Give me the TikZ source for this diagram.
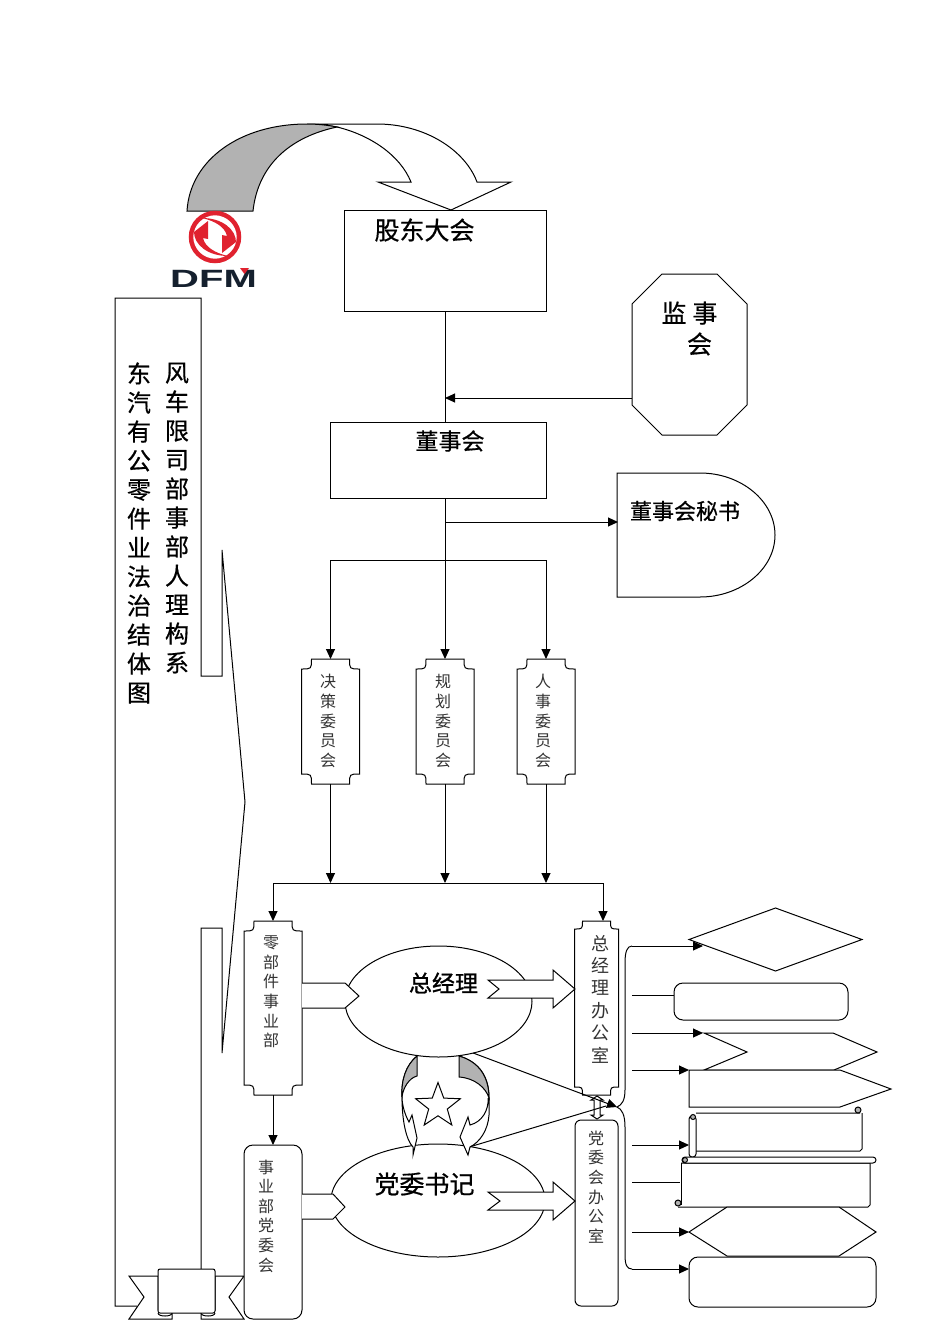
\documentclass[tikz,border=0pt]{standalone}
\usepackage{fontspec}
\setmainfont{Noto Sans CJK SC}
\newfontfamily\medfont[FakeBold=0.6]{Noto Sans CJK SC}
\newfontfamily\heavyfont[FakeBold=1.1]{Noto Sans CJK SC}
\newfontfamily\logofont{Liberation Sans}
\usetikzlibrary{arrows.meta}
\usetikzlibrary{shapes.geometric}
\definecolor{bandgray}{HTML}{B2B2B2}
\definecolor{dfmred}{HTML}{E0222F}
\definecolor{dfmnavy}{HTML}{15202E}
\tikzset{x=1pt,y=-1pt,
	>={Triangle[length=10pt,width=9pt]},
	every path/.style={line width=1pt},
	every node/.style={outer sep=0pt},
	box/.style={draw,rectangle,inner sep=0pt},
	blank/.style={rectangle,inner sep=0pt},
	oval/.style={draw,ellipse,inner sep=0pt,fill=white},
	roundbox/.style={draw,rectangle,inner sep=0pt,rounded corners=9pt,fill=white},
	bigtxt/.style={font=\medfont\fontsize{25}{31}\selectfont,align=center,inner sep=0pt},
	midtxt/.style={font=\medfont\fontsize{22}{26}\selectfont,inner sep=0pt},
	smalltxt/.style={font=\fontsize{16}{19.6}\selectfont,align=center,inner sep=0pt,text=black!80},
	officetxt/.style={font=\fontsize{18}{22.4}\selectfont,align=center,inner sep=0pt,text=black!80},
	titletxt/.style={font=\medfont\fontsize{24}{29}\selectfont,align=center,inner sep=0pt},
	flat/.style={draw,fill=white,line join=miter}}
\newcommand{\plaque}[2][10pt]{\draw ([xshift=#1]#2.north west) -- ([xshift=-#1]#2.north east)
	.. controls ([xshift=-#1,yshift=-#1]#2.north east) .. ([yshift=-#1]#2.north east)
	-- ([yshift=#1]#2.south east)
	.. controls ([xshift=-#1,yshift=#1]#2.south east) .. ([xshift=-#1]#2.south east)
	-- ([xshift=#1]#2.south west)
	.. controls ([xshift=#1,yshift=#1]#2.south west) .. ([yshift=#1]#2.south west)
	-- ([yshift=-#1]#2.north west)
	.. controls ([xshift=#1,yshift=-#1]#2.north west) .. ([xshift=#1]#2.north west) -- cycle;}
\begin{document}
\begin{tikzpicture}
		\useasboundingbox (0,0) rectangle (950,1344);
		% title band
		\draw (137,1306) -- (115,1306) -- (115,298) -- (201,298) -- (201,676) -- (222,676) -- (222,550)
			-- (245,802) -- (222,1053) -- (222,928) -- (201,928) -- (201,1269);
		\node[titletxt] (titleR) at (177,518) {风\\车\\限\\司\\部\\事\\部\\人\\理\\构\\系};
		\node[titletxt] (titleL) at (139,533) {东\\汽\\有\\公\\零\\件\\业\\法\\治\\结\\体\\图};
		% ribbon
		\draw[fill=white] (158,1276) -- (129,1276) -- (144,1297) -- (129,1319) -- (172,1319) -- (172,1310) -- (158,1310) -- cycle;
		\draw[fill=white] (215,1276) -- (244,1276) -- (229,1297) -- (244,1319) -- (201,1319) -- (201,1310) -- (215,1310) -- cycle;
		\draw[fill=white] (158,1313) .. controls (158,1317) and (172,1317) .. (172,1313);
		\draw[fill=white] (201,1313) .. controls (201,1317) and (215,1317) .. (215,1313);
		\node[box,fill=white,rounded corners=2pt,minimum width=57pt,minimum height=44pt] (ribbon) at (186.5,1291) {};
		% top arrow and logo
		\draw[flat] (307,124) -- (377,124) .. controls (425,124) and (465,150) .. (477,182) -- (511,182) -- (451,210)
			-- (378,182) -- (411,182) .. controls (400,155) and (370,135) .. (337,127) .. controls (327,125) and (317,124) .. (307,124) -- cycle;
		\draw[fill=bandgray] (187,211) .. controls (190,160) and (240,124) .. (307,124) .. controls (317,124) and (327,125) .. (337,127)
			.. controls (290,137) and (258,165) .. (253,211) -- cycle;
		\node[draw=dfmred,circle,line width=4.5pt,minimum size=48pt,inner sep=0pt] (logoring) at (215,237) {};
		\begin{scope}[shift={(215,237)}]
			\fill[dfmred] (-7,-16) -- (-21,-5) .. controls (-21,7) and (-8,19) .. (13,19) .. controls (0,16) and (-10,10) .. (-12,1) -- (-7,2) -- cycle;
			\fill[dfmred,rotate=180] (-7,-16) -- (-21,-5) .. controls (-21,7) and (-8,19) .. (13,19) .. controls (0,16) and (-10,10) .. (-12,1) -- (-7,2) -- cycle;
		\end{scope}
		\node[font=\logofont\bfseries\fontsize{25}{25}\selectfont,text=dfmnavy,xscale=1.6,inner sep=0pt] (logotxt) at (213.5,278.5) {DFM};
		\fill[dfmred] (240,268) -- (249,268) -- (244.5,274) -- cycle;
		% upper boxes
		\node[box,minimum width=202pt,minimum height=101pt] (gudong) at (445,260.5) {};
		\node[bigtxt] (gudongT) at (424.5,230) {股东大会};
		\node[blank,minimum width=115pt,minimum height=161pt] (jianshi) at (689.5,354.5) {};
		\draw (662,274) -- (717,274) -- (747,304) -- (747,405) -- (717,435) -- (662,435) -- (632,405) -- (632,304) -- cycle;
		\node[bigtxt] (jianshiT) at (689.5,328.5) {监\hspace{6pt}事\\\hspace*{20pt}会};
		\node[box,minimum width=216pt,minimum height=76pt] (dongshi) at (438,460) {};
		\node[midtxt,font=\medfont\fontsize{23}{26}\selectfont] (dongshiT) at (450,441) {董事会};
		\draw (617,473) -- (700,473) .. controls (741,473) and (775,501) .. (775,535) .. controls (775,569) and (741,597) .. (700,597) -- (617,597) -- cycle;
		\node[midtxt] (mishuT) at (685,511) {董事会秘书};
		\coordinate (mishu) at (618,522);
		\coordinate (jsL) at (632,398);
		\coordinate (trunk1) at (445,398);
		\coordinate (trunk2) at (445,522);
		\coordinate (bus) at (445,560);
		\draw (gudong.south) -- (gudong.south |- dongshi.north);
		\draw[->] (jsL) -- (trunk1);
		\draw (dongshi.south -| bus) -- (bus);
		\draw[->] (trunk2) -- (mishu);
		% committees
		\node[blank,minimum width=58pt,minimum height=125pt] (juece) at (330.5,721.5) {};
		\node[blank,minimum width=58pt,minimum height=125pt] (guihua) at (445,721.5) {};
		\node[blank,minimum width=58pt,minimum height=125pt] (renshi) at (546,721.5) {};
		\plaque{juece}
		\plaque{guihua}
		\plaque{renshi}
		\node[smalltxt] (jueceT) at (328,721) {决\\策\\委\\员\\会};
		\node[smalltxt] (guihuaT) at (443,721) {规\\划\\委\\员\\会};
		\node[smalltxt] (renshiT) at (543,721) {人\\事\\委\\员\\会};
		\draw (juece.north |- bus) -- (renshi.north |- bus);
		\draw[->] (juece.north |- bus) -- (juece.north);
		\draw[->] (bus) -- (guihua.north);
		\draw[->] (renshi.north |- bus) -- (renshi.north);
		% lower columns
		\coordinate (bus2) at (445,883);
		\node[blank,minimum width=58pt,minimum height=174pt] (lingbu) at (273,1008) {};
		\plaque{lingbu}
		\node[smalltxt] (lingbuT) at (271,992) {零\\部\\件\\事\\业\\部};
		\node[roundbox,minimum width=58pt,minimum height=174pt] (dangwei) at (273,1232) {};
		\node[smalltxt] (dangweiT) at (266,1216) {事\\业\\部\\党\\委\\会};
		\node[blank,minimum width=44pt,minimum height=174pt] (zjban) at (596.5,1008) {};
		\plaque[8pt]{zjban}
		\node[officetxt] (zjbanT) at (600,999) {总\\经\\理\\办\\公\\室};
		\node[roundbox,minimum width=43pt,minimum height=186pt,rounded corners=6pt] (dwban) at (596.5,1213) {};
		\node[smalltxt] (dwbanT) at (596,1187) {党\\委\\会\\办\\公\\室};
		\draw[->] (juece.south) -- (juece.south |- bus2);
		\draw[->] (guihua.south) -- (bus2);
		\draw[->] (renshi.south) -- (renshi.south |- bus2);
		\draw (lingbu.north |- bus2) -- (603,883) coordinate (bus3);
		\draw[->] (lingbu.north |- bus2) -- (lingbu.north);
		\draw[->] (bus3) -- (bus3 |- zjban.north);
		\draw[->] (lingbu.south) -- (dangwei.north);
		% ovals
		\node[oval,minimum width=187pt,minimum height=111pt] (zongjingli) at (438.5,1001.5) {};
		\node[oval,minimum width=214pt,minimum height=113pt] (shuji) at (438,1200.5) {};
		\node[midtxt,font=\heavyfont\fontsize{23}{26}\selectfont] (zongjingliT) at (443.5,983) {总经理};
		\node[bigtxt] (shujiT) at (424.5,1184) {党委书记};
		\draw[flat] (302,983) -- (345,983) -- (359,996) -- (345,1008) -- (302,1008);
		\draw[flat] (302,1194) -- (333,1194) -- (345,1207) -- (333,1219) -- (302,1219);
		\draw[flat] (488,980) -- (553,980) -- (553,970) -- (575,989) -- (553,1008) -- (553,998) -- (488,998) -- (499,989) -- cycle;
		\draw[flat] (488,1192) -- (553,1192) -- (553,1182) -- (575,1201) -- (553,1220) -- (553,1210) -- (488,1210) -- (500,1201) -- cycle;
		% curved arrows and star
		\draw[fill=white] (417,1056) .. controls (406,1065) and (401,1080) .. (402,1097) .. controls (402,1120) and (406,1140) .. (413,1147)
			-- (413,1155) -- (417,1138) -- (412,1115) -- (409,1122) .. controls (405,1115) and (402,1105) .. (402,1097);
		\draw[fill=bandgray] (417,1056) .. controls (406,1065) and (401,1080) .. (402,1097) .. controls (403,1088) and (409,1078) .. (417,1076) -- cycle;
		\draw[fill=white] (459,1056) .. controls (480,1062) and (489,1078) .. (489,1097) -- (489,1115) .. controls (488,1130) and (480,1142) .. (470,1147)
			-- (468,1155) -- (460,1137) -- (468,1117) -- (470,1125) .. controls (482,1122) and (489,1110) .. (488,1098);
		\draw[fill=bandgray] (459,1056) .. controls (480,1062) and (489,1078) .. (489,1098) .. controls (486,1088) and (475,1078) .. (459,1077) -- cycle;
		\node[draw,star,star points=5,star point ratio=2.4,minimum size=47pt,inner sep=0pt] (star) at (438,1106) {};
		% double arrow between the offices
		\draw[flat] (597,1096) -- (603,1100) -- (600,1100) -- (600,1115) -- (603,1115) -- (597,1119) -- (591,1115) -- (594,1115) -- (594,1100) -- (591,1100) -- cycle;
		\coordinate (hub) at (617,1107);
		\draw[->] (zongjingli.-56) -- (hub);
		\draw (shuji.59) -- (606,1106);
		% right column shapes
		\node[draw,diamond,minimum width=173pt,minimum height=63pt,inner sep=0pt] (bgs) at (775.5,939.5) {};
		\node[roundbox,minimum width=174pt,minimum height=37pt] (rr1) at (761,1001.5) {};
		\draw (704,1033) -- (833,1033) -- (877,1052) -- (834,1070) -- (704,1070) -- (747,1052) -- cycle;
		\draw[fill=white] (689,1070) -- (840,1070) -- (891,1089) -- (840,1107) -- (689,1107) -- cycle;
		% scrolls
		\draw (696,1113) -- (860,1113) (862,1113) -- (862,1149) -- (860,1151) -- (696,1151);
		\draw[fill=white,rounded corners=3pt] (689,1116) -- (696,1116) -- (696,1157) -- (689,1157) -- cycle;
		\draw[fill=bandgray] (858,1110) circle (3pt);
		\draw[fill=bandgray] (693,1117) circle (2.5pt);
		\draw[fill=white] (681,1163) -- (870,1163) -- (870,1205) -- (868,1207) -- (678,1207);
		\draw (681,1163) -- (681,1205);
		\draw[fill=white,rounded corners=3pt] (682,1157) -- (876,1157) -- (876,1163) -- (682,1163) -- cycle;
		\draw[fill=bandgray] (685,1160) circle (2.5pt);
		\draw[fill=bandgray] (678,1203) circle (3pt);
		\draw[fill=white] (689,1232) -- (727,1207) -- (839,1207) -- (876,1232) -- (839,1256) -- (727,1256) -- cycle;
		\node[roundbox,minimum width=187pt,minimum height=50pt] (rr2) at (782.5,1282) {};
		% braces
		\coordinate (b1) at (632,946);
		\coordinate (b2) at (632,995);
		\coordinate (b3) at (632,1033);
		\coordinate (b4) at (632,1070);
		\coordinate (b5) at (632,1145);
		\coordinate (b6) at (632,1182);
		\coordinate (b7) at (632,1232);
		\coordinate (b8) at (632,1269);
		\coordinate (t1) at (703,946);
		\coordinate (t3) at (703,1033);
		\coordinate (t4) at (689,1070);
		\coordinate (t5) at (689,1145);
		\coordinate (t6) at (680,1182);
		\coordinate (t7) at (689,1232);
		\draw (b1) .. controls (627,946) and (625,952) .. (625,963) -- (625,1090) .. controls (625,1100) and (622,1105) .. (hub)
			.. controls (622,1109) and (625,1115) .. (625,1127) -- (625,1255) .. controls (625,1265) and (627,1269) .. (b8);
		\draw[->] (b1) -- (t1);
		\draw (b2) -- (b2 -| rr1.west);
		\draw[->] (b3) -- (t3);
		\draw[->] (b4) -- (t4);
		\draw[->] (b5) -- (t5);
		\draw (b6) -- (t6);
		\draw[->] (b7) -- (t7);
		\draw[->] (b8) -- (b8 -| rr2.west);
	\end{tikzpicture}
\end{document}
